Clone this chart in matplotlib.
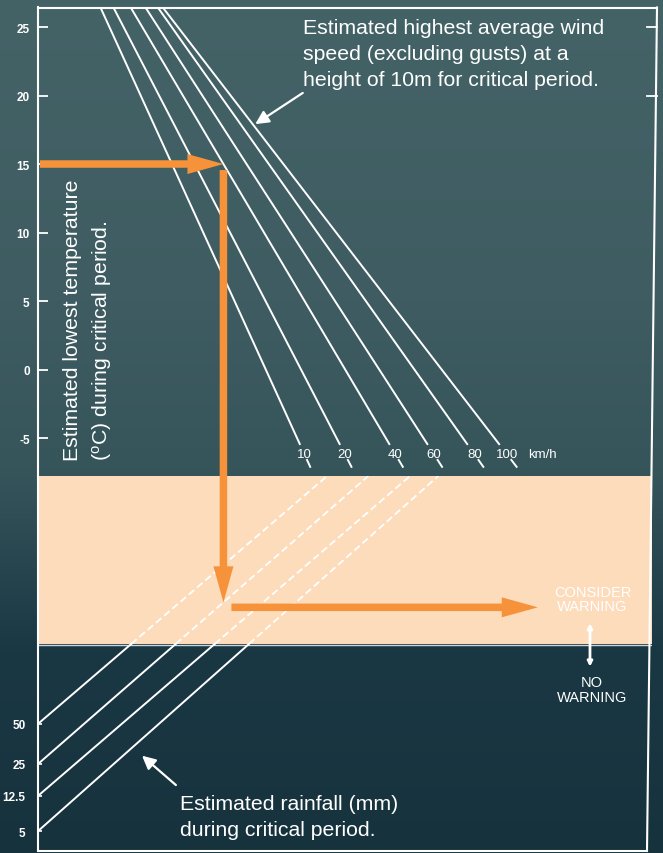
import numpy as np
import matplotlib
matplotlib.use("Agg")
import matplotlib.pyplot as plt
from matplotlib.patches import FancyArrow

plt.rcParams['font.family'] = ['Liberation Sans', 'DejaVu Sans']
plt.rcParams['mathtext.fontset'] = 'custom'
plt.rcParams['mathtext.rm'] = 'Liberation Sans'

# ---------------- data ----------------
temp_ticks = [25, 20, 15, 10, 5, 0, -5]                 # deg C scale
wind_speeds = [10, 20, 40, 60, 80, 100]                 # km/h
wind_labels = ["10", "20", "40", "60", "80", "100"]
wind_top_x = [10.1, 12.2, 15.0, 17.4, 19.4, 20.2]       # nomogram index where line leaves top
wind_bottom_x = [42.7, 49.2, 57.3, 63.5, 70.0, 75.2]    # nomogram index at lower end
wind_top_temp = 26.5
wind_bottom_temp = -5.5

rain_labels = ["50", "25", "12.5", "5"]                 # mm
rain_left_pos = [33.9, 23.2, 14.7, 5.3]                 # position on rainfall scale
rain_top_x = [47.1, 53.8, 60.6, 65.2]                   # index where line meets top of band
warning_threshold = 55.2                                # lower edge of "consider warning" zone

example_temp = 15
example_wind = 40
example_rain = "25"

# ---------------- figure / layout ----------------
W, H = 663, 854
fig = plt.figure(figsize=(W / 100, H / 100), dpi=100)

def fx(px):
    return px / W

def fy(py):
    return 1 - py / H

# background gradient
bg = fig.add_axes([0, 0, 1, 1], zorder=0)
bg.set_axis_off()
stops_y = [0, 300, 470, 650, 854]
stops_c = np.array([[68, 99, 103], [62, 92, 97], [54, 85, 91], [26, 56, 68], [22, 50, 61]]) / 255
ys = np.arange(H)
img = np.stack([np.interp(ys, stops_y, stops_c[:, k]) for k in range(3)], axis=-1)[:, None, :]
bg.imshow(img, aspect='auto', extent=[0, W, H, 0])
bg.set_xlim(0, W)
bg.set_ylim(H, 0)

LEFT, RIGHT, TOP, MID, BOT = 38, 652, 8, 477, 852
T_TOP, T_BOT = 26.46, -7.77

ax_top = fig.add_axes([fx(LEFT), fy(MID), fx(RIGHT) - fx(LEFT), fy(TOP) - fy(MID)], zorder=2)
ax_low = fig.add_axes([fx(LEFT), fy(BOT), fx(RIGHT) - fx(LEFT), fy(MID) - fy(BOT)], zorder=2)
for ax in (ax_top, ax_low):
    ax.set_facecolor('none')
    ax.set_xlim(0, 100)
    for s in ('top', 'right', 'bottom'):
        ax.spines[s].set_visible(False)
    ax.spines['left'].set_color('white')
    ax.spines['left'].set_linewidth(1.5)
    ax.set_xticks([])
ax_top.set_ylim(T_BOT, T_TOP)
ax_low.set_ylim(0, 100)

ax_top.set_yticks(temp_ticks)
ax_top.set_yticklabels([str(t) for t in temp_ticks])
ax_top.tick_params(axis='y', direction='in', length=7, width=1.3, color='white',
                   labelcolor='white', labelsize=8.5, pad=6)
ax_low.set_yticks(rain_left_pos)
ax_low.set_yticklabels(rain_labels)
ax_low.tick_params(axis='y', direction='in', length=3, width=1.2, color='white',
                   labelcolor='white', labelsize=8.5, pad=9)
for lab in ax_top.get_yticklabels() + ax_low.get_yticklabels():
    lab.set_fontweight('bold')

# ---------------- wind lines ----------------
def wind_x(i, t):
    f = (t - wind_top_temp) / (wind_bottom_temp - wind_top_temp)
    return wind_top_x[i] + f * (wind_bottom_x[i] - wind_top_x[i])

for i, lab in enumerate(wind_labels):
    ax_top.plot([wind_top_x[i], wind_bottom_x[i]], [wind_top_temp, wind_bottom_temp],
                color='white', lw=1.4, zorder=3, solid_capstyle='butt')
    ax_top.plot([wind_x(i, -6.6), wind_x(i, -7.1)], [-6.6, -7.1], color='white', lw=1.4, zorder=3)
    ax_top.text(wind_x(i, -6.2), -6.2, lab, color='white', fontsize=9.5,
                ha='center', va='center', zorder=4)
ax_top.annotate("km/h", xy=(wind_x(5, -6.2), -6.2), xytext=(15, 0), textcoords='offset points',
                color='white', fontsize=9.5, ha='left', va='center')

# ---------------- warning band and rain lines ----------------
ax_low.axhspan(warning_threshold, 100, color='#fddcbc', zorder=1, lw=0)
ax_low.axhline(warning_threshold - 0.3, color='white', lw=1.0, alpha=0.8, zorder=1.5)

for i in range(len(rain_labels)):
    y0, xt = rain_left_pos[i], rain_top_x[i]
    xm = (warning_threshold - y0) / (100 - y0) * xt
    ax_low.plot([0, xm], [y0, warning_threshold], color='white', lw=1.4, zorder=3)
    ax_low.plot([xm, xt], [warning_threshold, 100], color='white', lw=1.3, zorder=3,
                dashes=(4, 2))

ax_low.text(90.3, 67.2, "CONSIDER\nWARNING", color='white', fontsize=10.5, ha='center',
            va='center', linespacing=1.05, zorder=4)
ax_low.text(90.2, 43.1, "NO\nWARNING", color='white', fontsize=10.5, ha='center',
            va='center', linespacing=1.05, zorder=4)
ax_low.annotate("", xy=(89.9, 61.5), xytext=(89.9, 48.4),
                arrowprops=dict(arrowstyle='<|-|>', color='white', lw=2, mutation_scale=7),
                zorder=4)

# ---------------- overlay (frame, arrows, notes) ----------------
ov = fig.add_axes([0, 0, 1, 1], zorder=5)
ov.set_axis_off()
ov.set_facecolor('none')
ov.set_xlim(0, W)
ov.set_ylim(H, 0)

def to_px(ax, x, y):
    dx, dy = ax.transData.transform((x, y))
    return dx, H - dy

# frame
ov.plot([LEFT, 657], [TOP + 0.5, TOP + 0.5], color='white', lw=1.5)
ov.plot([657, 647], [TOP + 0.5, BOT], color='white', lw=1.5)
ov.plot([LEFT, 647], [BOT, BOT], color='white', lw=1.5)
for t in (25, 20):
    _, ty = to_px(ax_top, 0, t)
    ov.plot([647, 657], [ty, ty], color='white', lw=1.3)

ORANGE = '#f6923a'
iw = wind_speeds.index(example_wind)
f = (example_temp - wind_top_temp) / (wind_bottom_temp - wind_top_temp)
x_meet = wind_top_x[iw] + f * (wind_bottom_x[iw] - wind_top_x[iw])
p0 = to_px(ax_top, 0, example_temp)
p1 = to_px(ax_top, x_meet, example_temp)
ir = rain_labels.index(example_rain)
y_meet = rain_left_pos[ir] + x_meet / rain_top_x[ir] * (100 - rain_left_pos[ir])
p2 = to_px(ax_low, x_meet, y_meet)
p3 = to_px(ax_low, 81.4, y_meet)

arrow_kw = dict(width=7.5, head_width=20, head_length=36, length_includes_head=True,
                color=ORANGE, lw=0)
ov.add_patch(FancyArrow(p0[0] + 2, p0[1], p1[0] - p0[0] - 2, 0, **arrow_kw))
ov.add_patch(FancyArrow(p1[0], p1[1] + 6, 0, p2[1] - p1[1] - 6, **arrow_kw))
ov.add_patch(FancyArrow(p2[0] + 8, p2[1] + 5, p3[0] - p2[0] - 8, 0, **arrow_kw))

# notes
note_kw = dict(color='white', fontsize=15.3, linespacing=1.45)
fig.text(fx(303), fy(19), "Estimated highest average wind\nspeed (excluding gusts) at a\n"
         "height of 10m for critical period.", ha='left', va='top', zorder=6, **note_kw)
fig.text(fx(63), fy(461), "Estimated lowest temperature\n($\\rm^{o}$C) during critical period.",
         rotation=90, ha='left', va='bottom', multialignment='left', zorder=6, **note_kw)
fig.text(fx(180), fy(795), "Estimated rainfall (mm)\nduring critical period.",
         ha='left', va='top', zorder=6, **note_kw)

a0 = to_px(ax_top, 43.5, 20.3)
a1 = to_px(ax_top, 35.0, 17.8)
ov.annotate("", xy=a1, xytext=a0,
            arrowprops=dict(arrowstyle='-|>', color='white', lw=1.6, mutation_scale=20))
b0 = to_px(ax_low, 22.8, 17.1)
b1 = to_px(ax_low, 16.6, 25.9)
ov.annotate("", xy=b1, xytext=b0,
            arrowprops=dict(arrowstyle='-|>', color='white', lw=1.6, mutation_scale=20))

fig.savefig("out.png", dpi=100)
